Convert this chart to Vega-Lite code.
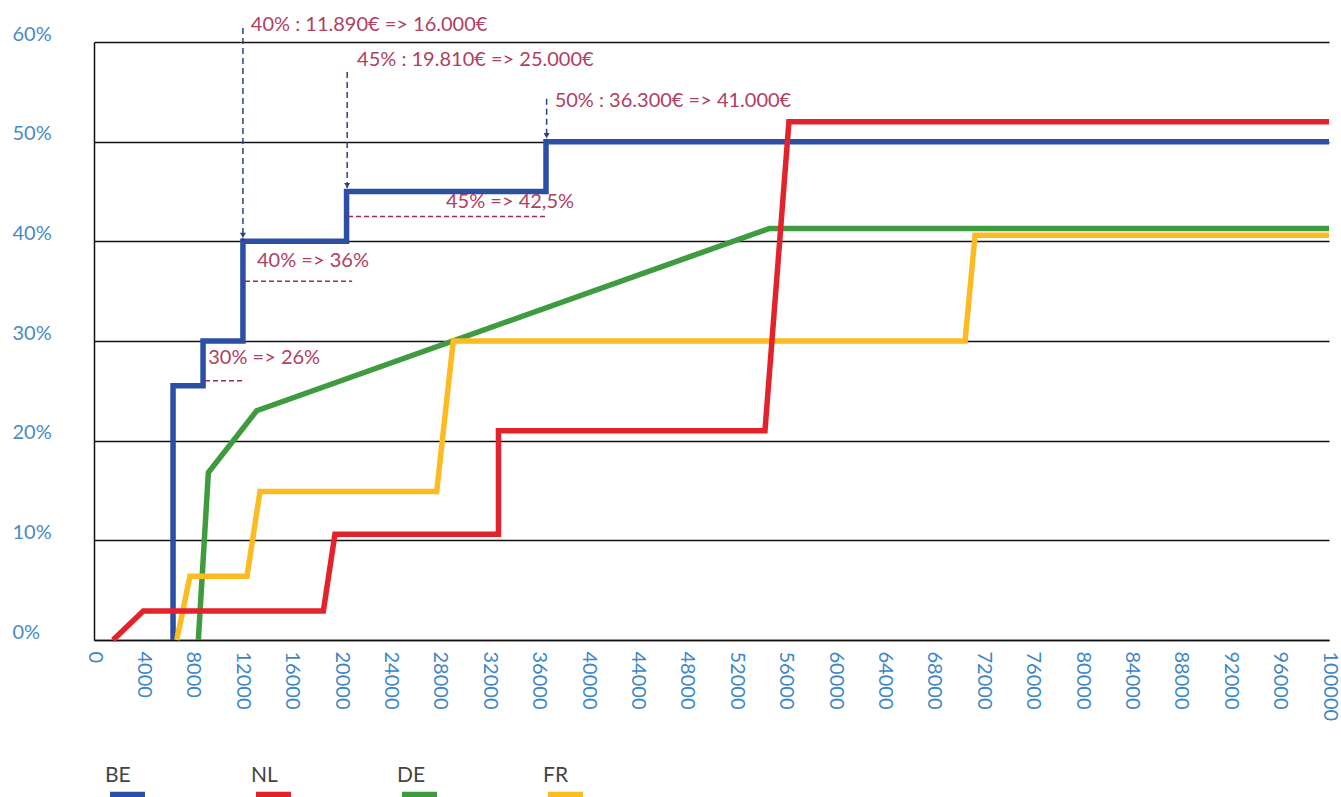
{
  "$schema": "https://vega.github.io/schema/vega-lite/v6.json",
  "width": 1235,
  "height": 598,
  "autosize": {"type": "none"},
  "padding": {"left": 94, "top": 42, "right": 12, "bottom": 157},
  "background": "white",
  "config": {"view": {"stroke": null}, "font": "Lato"},
  "datasets": {
    "lines": [
      {"country": "BE", "order": 1, "x": 6400, "y": 0},
      {"country": "BE", "order": 2, "x": 6400, "y": 25.5},
      {"country": "BE", "order": 3, "x": 8830, "y": 25.5},
      {"country": "BE", "order": 4, "x": 8830, "y": 30},
      {"country": "BE", "order": 5, "x": 12060, "y": 30},
      {"country": "BE", "order": 6, "x": 12060, "y": 40},
      {"country": "BE", "order": 7, "x": 20450, "y": 40},
      {"country": "BE", "order": 8, "x": 20450, "y": 45},
      {"country": "BE", "order": 9, "x": 36600, "y": 45},
      {"country": "BE", "order": 10, "x": 36600, "y": 50},
      {"country": "BE", "order": 11, "x": 100000, "y": 50},
      {"country": "DE", "order": 1, "x": 8450, "y": 0},
      {"country": "DE", "order": 2, "x": 9260, "y": 16.8},
      {"country": "DE", "order": 3, "x": 13170, "y": 23.0},
      {"country": "DE", "order": 4, "x": 54700, "y": 41.3},
      {"country": "DE", "order": 5, "x": 100000, "y": 41.3},
      {"country": "FR", "order": 1, "x": 6700, "y": 0},
      {"country": "FR", "order": 2, "x": 7770, "y": 6.4},
      {"country": "FR", "order": 3, "x": 12390, "y": 6.4},
      {"country": "FR", "order": 4, "x": 13440, "y": 14.9},
      {"country": "FR", "order": 5, "x": 27750, "y": 14.9},
      {"country": "FR", "order": 6, "x": 29090, "y": 30},
      {"country": "FR", "order": 7, "x": 70530, "y": 30},
      {"country": "FR", "order": 8, "x": 71340, "y": 40.6},
      {"country": "FR", "order": 9, "x": 100000, "y": 40.6},
      {"country": "NL", "order": 1, "x": 1540, "y": 0},
      {"country": "NL", "order": 2, "x": 3990, "y": 2.9},
      {"country": "NL", "order": 3, "x": 18570, "y": 2.9},
      {"country": "NL", "order": 4, "x": 19510, "y": 10.6},
      {"country": "NL", "order": 5, "x": 32750, "y": 10.6},
      {"country": "NL", "order": 6, "x": 32750, "y": 21},
      {"country": "NL", "order": 7, "x": 54330, "y": 21},
      {"country": "NL", "order": 8, "x": 56270, "y": 52},
      {"country": "NL", "order": 9, "x": 100000, "y": 52}
    ],
    "notes": [
      {"label": "40% : 11.890€ => 16.000€", "x": 12700, "y": 61.7},
      {"label": "45% : 19.810€ => 25.000€", "x": 21300, "y": 58.2},
      {"label": "50% : 36.300€ => 41.000€", "x": 37300, "y": 54.1},
      {"label": "45% => 42,5%", "x": 28500, "y": 43.9},
      {"label": "40% => 36%", "x": 13200, "y": 38.0},
      {"label": "30% => 26%", "x": 9250, "y": 28.3}
    ],
    "arrows": [
      {"x": 12060, "top": 61.4, "tip": 40},
      {"x": 20500, "top": 57.0, "tip": 45},
      {"x": 36650, "top": 54.3, "tip": 50}
    ],
    "dashes": [
      {"y": 26, "x1": 8990, "x2": 12230},
      {"y": 36, "x1": 12230, "x2": 20900},
      {"y": 42.5, "x1": 20570, "x2": 36520}
    ]
  },
  "layer": [
    {
      "data": {"name": "lines"},
      "mark": {"type": "line", "strokeWidth": 5.5, "strokeJoin": "miter", "strokeCap": "butt"},
      "encoding": {
        "x": {
          "field": "x",
          "type": "quantitative",
          "scale": {"domain": [0, 100000], "nice": false, "zero": false},
          "axis": {
            "values": [0, 4000, 8000, 12000, 16000, 20000, 24000, 28000, 32000, 36000, 40000, 44000, 48000, 52000, 56000, 60000, 64000, 68000, 72000, 76000, 80000, 84000, 88000, 92000, 96000, 100000],
            "format": "d",
            "labelAngle": 90,
            "labelAlign": "left",
            "labelBaseline": "middle",
            "labelPadding": 11,
            "ticks": false,
            "tickSize": 0,
            "grid": false,
            "domain": true,
            "domainColor": "#111111",
            "domainWidth": 1.5,
            "labelColor": "#3d86c6",
            "labelFontSize": 20,
            "labelFont": "Lato",
            "labelFlush": false,
            "labelOverlap": false,
            "labelBound": false,
            "title": null
          }
        },
        "y": {
          "field": "y",
          "type": "quantitative",
          "scale": {"domain": [0, 60], "nice": false},
          "axis": {
            "values": [0, 10, 20, 30, 40, 50, 60],
            "labelExpr": "datum.value + '%'",
            "grid": true,
            "gridColor": "#111111",
            "gridWidth": 1.5,
            "gridOpacity": 1,
            "domain": true,
            "domainColor": "#111111",
            "domainWidth": 1.5,
            "ticks": false,
            "tickSize": 0,
            "labelAlign": "left",
            "labelBaseline": "middle",
            "labelPadding": 82,
            "labelOffset": -8,
            "labelColor": "#4a8ac4",
            "labelFontSize": 20,
            "labelFont": "Lato",
            "title": null
          }
        },
        "color": {
          "field": "country",
          "type": "nominal",
          "scale": {"domain": ["BE", "NL", "DE", "FR"], "range": ["#2d4ea5", "#e3232c", "#3f9b40", "#fbbb21"]},
          "legend": {
            "title": null,
            "orient": "none",
            "legendX": 13,
            "legendY": 732,
            "direction": "horizontal",
            "symbolType": "stroke",
            "symbolSize": 1225,
            "symbolStrokeWidth": 6,
            "labelOffset": -43,
            "labelFontSize": 21,
            "labelColor": "#444444",
            "labelFont": "Lato",
            "columnPadding": 87,
            "padding": 0,
            "encode": {"labels": {"update": {"dy": {"value": -19}}}}
          }
        },
        "order": {"field": "order", "type": "quantitative"}
      }
    },
    {
      "data": {"name": "dashes"},
      "mark": {"type": "rule", "color": "#9c2a48", "strokeDash": [5, 3], "strokeWidth": 1.5},
      "encoding": {
        "x": {"field": "x1", "type": "quantitative"},
        "x2": {"field": "x2"},
        "y": {"field": "y", "type": "quantitative"}
      }
    },
    {
      "data": {"name": "arrows"},
      "mark": {"type": "rule", "color": "#2b3f8f", "strokeDash": [6, 4], "strokeWidth": 1.5},
      "encoding": {
        "x": {"field": "x", "type": "quantitative"},
        "y": {"field": "top", "type": "quantitative"},
        "y2": {"field": "tip"}
      }
    },
    {
      "data": {"name": "arrows"},
      "mark": {"type": "point", "shape": "triangle-down", "filled": true, "size": 36, "color": "#2b3f8f", "opacity": 1, "yOffset": -6},
      "encoding": {
        "x": {"field": "x", "type": "quantitative"},
        "y": {"field": "tip", "type": "quantitative"}
      }
    },
    {
      "data": {"name": "notes"},
      "mark": {"type": "text", "align": "left", "baseline": "middle", "fontSize": 20, "font": "Lato", "color": "#b0405f"},
      "encoding": {
        "x": {"field": "x", "type": "quantitative"},
        "y": {"field": "y", "type": "quantitative"},
        "text": {"field": "label"}
      }
    }
  ]
}
